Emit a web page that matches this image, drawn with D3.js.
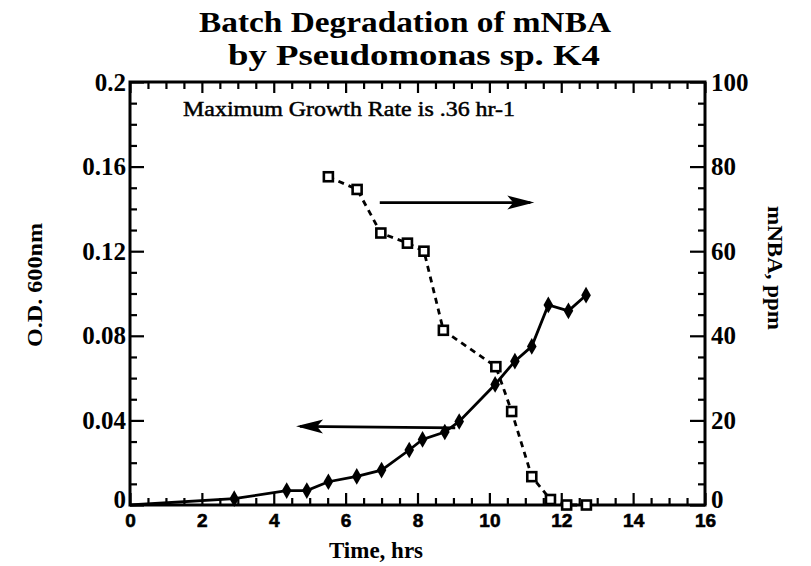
<!DOCTYPE html>
<html>
<head>
<meta charset="utf-8">
<script src="https://cdn.jsdelivr.net/npm/d3@7/dist/d3.min.js"></script>
<style>
  html, body { margin: 0; padding: 0; background: #fff; }
  svg { display: block; }
</style>
</head>
<body>
<svg id="chart" width="811" height="566"></svg>
<script>
// ---- data ----
const titleLines = ["Batch Degradation of mNBA", "by Pseudomonas sp. K4"];
const annotation = "Maximum Growth Rate is .36 hr-1";
const xLabel = "Time, hrs";
const yLeftLabel = "O.D. 600nm";
const yRightLabel = "mNBA, ppm";

const xTicks = [0, 2, 4, 6, 8, 10, 12, 14, 16];
const yLeftTicks = [0, 0.04, 0.08, 0.12, 0.16, 0.2];
const yLeftTickLabels = ["0", "0.04", "0.08", "0.12", "0.16", "0.2"];
const yRightTicks = [0, 20, 40, 60, 80, 100];

// O.D. 600nm (left axis), time in hrs
const odTime = [0, 2.9, 4.36, 4.92, 5.52, 6.31, 7.0, 7.77, 8.14, 8.76, 9.16, 10.16, 10.71, 11.18, 11.64, 12.2, 12.69];
const odValue = [0, 0.003, 0.0068, 0.0068, 0.011, 0.0135, 0.0165, 0.026, 0.031, 0.0345, 0.0395, 0.057, 0.068, 0.075, 0.0946, 0.0918, 0.0992];

// mNBA ppm (right axis)
const mnbaTime = [5.52, 6.32, 6.98, 7.72, 8.18, 8.72, 10.18, 10.62, 11.18, 11.7, 12.15, 12.7];
const mnbaValue = [77.6, 74.6, 64.3, 61.9, 60.0, 41.3, 32.7, 22.1, 6.7, 1.3, 0, 0];

// arrows (data units)
const arrowRight = { x1: 6.95, x2: 11.25, y: 71.5 };   // y on right axis
const arrowLeft = { x1: 9.05, x2: 4.62, y1: 0.0365, y2: 0.0372 }; // y on left axis

// ---- layout ----
const svg = d3.select("#chart");
const L = 130, R = 705, T = 82, B = 505;

const x = d3.scaleLinear().domain([0, 16]).range([L, R]);
const yL = d3.scaleLinear().domain([0, 0.2]).range([B, T]);
const yR = d3.scaleLinear().domain([0, 100]).range([B, T]);

const serif = "'Liberation Serif', 'Times New Roman', serif";
const sans = "'Liberation Sans', Arial, sans-serif";

function styleAxis(g) {
  g.select(".domain").remove();
  g.selectAll(".tick line").attr("stroke", "#000").attr("stroke-width", 2.2);
}

const xMinor = d3.range(0, 16.01, 0.5).filter(v => Math.abs(v % 2) > 1e-9);
const yLMinor = d3.range(0, 0.2001, 0.01).filter(v => Math.abs((v / 0.04) - Math.round(v / 0.04)) > 1e-6);
const yRMinor = d3.range(0, 100.1, 5).filter(v => v % 20 !== 0);

// bottom
svg.append("g").attr("transform", `translate(0,${B})`)
  .call(d3.axisBottom(x).tickValues(xMinor).tickSize(-7).tickFormat(""))
  .call(styleAxis);
svg.append("g").attr("transform", `translate(0,${B})`)
  .call(d3.axisBottom(x).tickValues(xTicks).tickSize(-12).tickPadding(7).tickFormat(d3.format("d")))
  .call(styleAxis)
  .call(g => g.selectAll("text").attr("font-family", sans).attr("font-weight", "bold")
    .attr("font-size", 19).attr("fill", "#000").attr("dy", "0.8em")
    .attr("stroke", "#000").attr("stroke-width", 0.6));

// top
svg.append("g").attr("transform", `translate(0,${T})`)
  .call(d3.axisTop(x).tickValues(xMinor).tickSize(-7).tickFormat(""))
  .call(styleAxis);
svg.append("g").attr("transform", `translate(0,${T})`)
  .call(d3.axisTop(x).tickValues(xTicks).tickSize(-11).tickFormat(""))
  .call(styleAxis);

// left
svg.append("g").attr("transform", `translate(${L},0)`)
  .call(d3.axisLeft(yL).tickValues(yLMinor).tickSize(-7).tickFormat(""))
  .call(styleAxis);
svg.append("g").attr("transform", `translate(${L},0)`)
  .call(d3.axisLeft(yL).tickValues(yLeftTicks).tickSize(-14).tickPadding(4)
    .tickFormat((d, i) => yLeftTickLabels[i]))
  .call(styleAxis)
  .call(g => g.selectAll("text").attr("font-family", serif).attr("font-weight", "bold")
    .attr("font-size", 25).attr("fill", "#000"))
  .call(g => g.selectAll(".tick").filter(d => d === 0).select("text").attr("dy", "0.1em"));

// right
svg.append("g").attr("transform", `translate(${R},0)`)
  .call(d3.axisRight(yR).tickValues(yRMinor).tickSize(-7).tickFormat(""))
  .call(styleAxis);
svg.append("g").attr("transform", `translate(${R},0)`)
  .call(d3.axisRight(yR).tickValues(yRightTicks).tickSize(-15).tickPadding(6).tickFormat(d3.format("d")))
  .call(styleAxis)
  .call(g => g.selectAll("text").attr("font-family", serif).attr("font-weight", "bold")
    .attr("font-size", 25).attr("fill", "#000"))
  .call(g => g.selectAll(".tick").filter(d => d === 0).select("text").attr("dy", "0.1em"));

// frame
svg.append("rect").attr("x", L).attr("y", T).attr("width", R - L).attr("height", B - T)
  .attr("fill", "none").attr("stroke", "#000").attr("stroke-width", 3);

// ---- series ----
const odData = odTime.map((t, i) => [t, odValue[i]]);
const mnData = mnbaTime.map((t, i) => [t, mnbaValue[i]]);

svg.append("path").datum(mnData)
  .attr("d", d3.line().x(d => x(d[0])).y(d => yR(d[1])))
  .attr("fill", "none").attr("stroke", "#000").attr("stroke-width", 2.8)
  .attr("stroke-dasharray", "6,5");

svg.append("path").datum(odData)
  .attr("d", d3.line().x(d => x(d[0])).y(d => yL(d[1])))
  .attr("fill", "none").attr("stroke", "#000").attr("stroke-width", 2.8);

svg.append("g").selectAll("path").data(odData.slice(1)).join("path")
  .attr("transform", d => `translate(${x(d[0])},${yL(d[1])})`)
  .attr("d", d3.symbol(d3.symbolDiamond, 80))
  .attr("fill", "#000");

svg.append("g").selectAll("rect").data(mnData).join("rect")
  .attr("x", d => x(d[0]) - 4.5).attr("y", d => yR(d[1]) - 4.5)
  .attr("width", 9).attr("height", 9)
  .attr("fill", "#fff").attr("stroke", "#000").attr("stroke-width", 2.6);

// ---- arrows ----
function arrow(x1, y1, x2, y2) {
  const ang = Math.atan2(y2 - y1, x2 - x1);
  const len = 27, half = 7;
  const bx = x2 - len * Math.cos(ang), by = y2 - len * Math.sin(ang);
  const px = -Math.sin(ang) * half, py = Math.cos(ang) * half;
  const nx = x2 - (len - 6) * Math.cos(ang), ny = y2 - (len - 6) * Math.sin(ang);
  svg.append("line").attr("x1", x1).attr("y1", y1).attr("x2", x2 - 4 * Math.cos(ang)).attr("y2", y2 - 4 * Math.sin(ang))
    .attr("stroke", "#000").attr("stroke-width", 2.8);
  svg.append("path")
    .attr("d", `M${x2},${y2}L${bx + px},${by + py}L${nx},${ny}L${bx - px},${by - py}Z`)
    .attr("fill", "#000");
}
arrow(x(arrowRight.x1), yR(arrowRight.y), x(arrowRight.x2), yR(arrowRight.y));
arrow(x(arrowLeft.x1), yL(arrowLeft.y1), x(arrowLeft.x2), yL(arrowLeft.y2));

// ---- texts ----
function fitText(sel, w) {
  sel.attr("textLength", w).attr("lengthAdjust", "spacingAndGlyphs");
}
svg.append("text").attr("x", 405).attr("y", 32).attr("text-anchor", "middle")
  .attr("font-family", serif).attr("font-weight", "bold").attr("font-size", 29.5)
  .text(titleLines[0]).call(fitText, 412);
svg.append("text").attr("x", 414).attr("y", 65).attr("text-anchor", "middle")
  .attr("font-family", serif).attr("font-weight", "bold").attr("font-size", 29.5)
  .text(titleLines[1]).call(fitText, 372);

svg.append("text").attr("x", 183).attr("y", 116)
  .attr("font-family", serif).attr("font-size", 22).attr("stroke", "#000").attr("stroke-width", 0.5)
  .text(annotation).call(fitText, 332);

svg.append("text").attr("x", 376).attr("y", 558).attr("text-anchor", "middle")
  .attr("font-family", serif).attr("font-weight", "bold").attr("font-size", 23)
  .text(xLabel);

svg.append("text").attr("transform", "translate(42,285) rotate(-90)").attr("text-anchor", "middle")
  .attr("font-family", serif).attr("font-weight", "bold").attr("font-size", 22)
  .text(yLeftLabel).call(fitText, 124);

svg.append("text").attr("transform", "translate(768,268) rotate(90)").attr("text-anchor", "middle")
  .attr("font-family", serif).attr("font-weight", "bold").attr("font-size", 22)
  .text(yRightLabel).call(fitText, 124);
</script>
</body>
</html>
